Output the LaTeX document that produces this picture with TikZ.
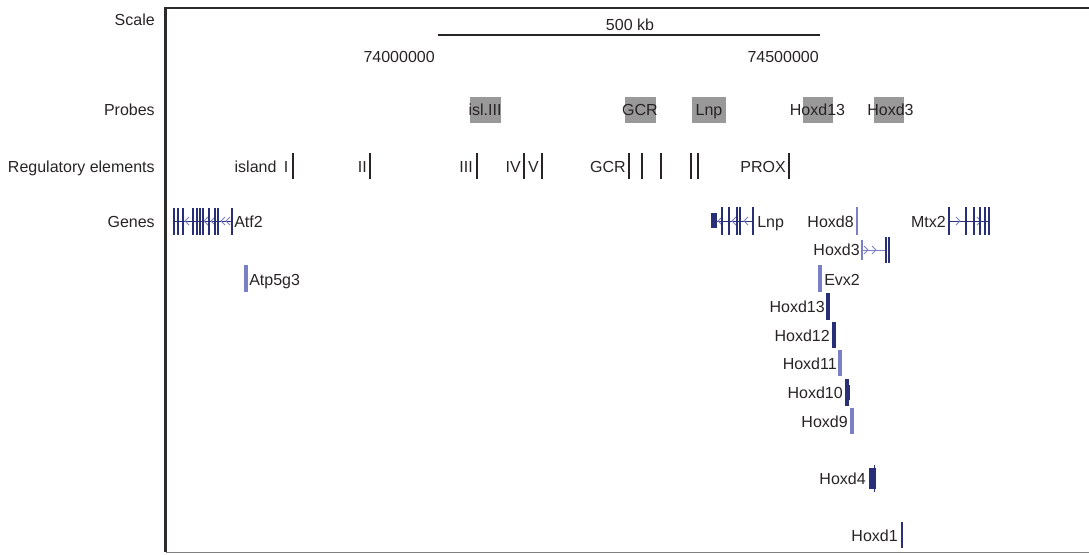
\documentclass[tikz,border=0pt]{standalone}
\usepackage{fontspec}
\setmainfont{Liberation Sans}
\definecolor{txt}{RGB}{40,36,37}
\definecolor{navy}{RGB}{40,46,120}
\definecolor{lightb}{RGB}{122,127,198}
\definecolor{probe}{RGB}{153,153,153}
\definecolor{frame}{RGB}{45,42,42}
\tikzset{
  lbl/.style={inner sep=0pt, text height=8.6pt, text depth=0pt, text=txt},
  regline/.style={draw=txt, line width=0.9pt},
  regthick/.style={draw=txt, line width=1.5pt},
  exon/.style={draw=navy, line width=1.4pt},
  exonthin/.style={draw=navy, line width=0.9pt},
  intron/.style={draw=navy, line width=0.6pt},
  chev/.style={draw=lightb, line width=0.6pt},
  lightbar/.style={draw=lightb, line width=2.4pt},
  navybar/.style={draw=navy, line width=2.4pt},
  probebox/.style={fill=probe, draw=none}
}
\begin{document}
\begin{tikzpicture}[x=0.75pt,y=-0.75pt,font=\fontsize{12}{14}\selectfont]
\useasboundingbox (0,0) rectangle (1089,554);
% frame
\draw[frame, line width=1.6pt] (165.5,552) -- (165.5,8) -- (1089,8);
\draw[gray, line width=1pt] (165.5,552.5) -- (1089,552.5);
% track labels
\node[lbl, anchor=east] (lscale) at (155,20) {Scale};
\node[lbl, anchor=east] (lprobes) at (155,110) {Probes};
\node[lbl, anchor=east] (lreg) at (155,167) {Regulatory elements};
\node[lbl, anchor=east] (lgenes) at (155,221.5) {Genes};
% scale
\draw[txt, line width=1.5pt] (438,35) -- (820,35);
\node[lbl] (kb) at (630,25) {500 kb};
\node[lbl, anchor=east] (p1) at (435,56.5) {74000000};
\node[lbl, anchor=east] (p2) at (819,56.5) {74500000};
% probes
\fill[probebox] (470,97) rectangle (501,123);
\fill[probebox] (625,97) rectangle (656,123);
\fill[probebox] (692,97) rectangle (726,123);
\fill[probebox] (803,97) rectangle (833,123);
\fill[probebox] (874,97) rectangle (904,123);
\node[lbl] (pisl) at (485,110) {isl.III};
\node[lbl] (pgcr) at (640,110) {GCR};
\node[lbl] (plnp) at (709,110) {Lnp};
\node[lbl] (phd13) at (817.5,110) {Hoxd13};
\node[lbl] (phd3) at (890.5,110) {Hoxd3};
% regulatory elements
\foreach \x in {293,370,477,542,642,661,691,698} \draw[regline] (\x,153) -- (\x,179);
\foreach \x in {524,629,789} \draw[regthick] (\x,153) -- (\x,179);
\node[lbl, anchor=east] (risl) at (288.5,167) {island\hspace{5.5pt}I};
\node[lbl, anchor=east] (rII) at (367,167) {II};
\node[lbl, anchor=east] (rIII) at (473,167) {III};
\node[lbl, anchor=east] (rIV) at (521,167) {IV};
\node[lbl, anchor=east] (rV) at (539,167) {V};
\node[lbl, anchor=east] (rGCR) at (626,167) {GCR};
\node[lbl, anchor=east] (rPROX) at (786,167) {PROX};
% Atf2
\draw[intron] (174,221) -- (232,221);
\foreach \x in {186,205,212,222,227} \draw[chev] (\x+3,217) -- (\x-1,221) -- (\x+3,225);
\foreach \x in {174,178,183,193,215,218,232} \draw[exonthin] (\x,208) -- (\x,235);
\foreach \x in {197,200,203,209} \draw[exon] (\x,208) -- (\x,235);
\node[lbl, anchor=west] (gatf2) at (234,221.5) {Atf2};
% Lnp
\draw[intron] (712,221) -- (754,221);
\fill[navy] (711,213) rectangle (717,228);
\foreach \x in {719,733,745} \draw[chev] (\x+3,217) -- (\x-1,221) -- (\x+3,225);
\foreach \x in {729,740} \draw[exonthin] (\x,207) -- (\x,235);
\foreach \x in {722,737,753} \draw[exon] (\x,207) -- (\x,235);
\node[lbl, anchor=west] (glnp) at (757,221.5) {Lnp};
% Hoxd8
\draw[draw=lightb, line width=1.1pt] (857,207) -- (857,235);
\node[lbl, anchor=east] (ghd8) at (854,221.5) {Hoxd8};
% Mtx2
\draw[intron] (949,221) -- (989,221);
\foreach \x in {959,980} \draw[chev] (\x-3,217) -- (\x+1,221) -- (\x-3,225);
\foreach \x in {949,974,985} \draw[exonthin] (\x,207) -- (\x,235);
\foreach \x in {966,980,989} \draw[exon] (\x,207) -- (\x,235);
\node[lbl, anchor=east] (gmtx2) at (946,221.5) {Mtx2};
% Hoxd3
\draw[draw=lightb, line width=0.6pt] (862,250) -- (887,250);
\draw[chev] (864,246) -- (868,250) -- (864,254);
\draw[chev] (872,246) -- (876,250) -- (872,254);
\draw[draw=lightb, line width=0.9pt] (862,240) -- (862,260);
\foreach \x in {886,889} \draw[exonthin] (\x,237) -- (\x,263);
\node[lbl, anchor=east] (ghd3) at (860,250) {Hoxd3};
% single-bar genes
\draw[lightbar] (246,265) -- (246,292);
\node[lbl, anchor=west] (gatp) at (249,279.5) {Atp5g3};
\draw[lightbar] (820,265) -- (820,292);
\node[lbl, anchor=west] (gevx2) at (824,279.5) {Evx2};
\draw[navybar] (828,293) -- (828,320);
\node[lbl, anchor=east] (ghd13) at (825,307) {Hoxd13};
\draw[navybar] (834,322) -- (834,348);
\node[lbl, anchor=east] (ghd12) at (830,336) {Hoxd12};
\draw[lightbar] (840,350) -- (840,376);
\node[lbl, anchor=east] (ghd11) at (837,364) {Hoxd11};
\draw[navybar] (847,379) -- (847,406);
\fill[navy] (846,385) rectangle (849.5,400);
\node[lbl, anchor=east] (ghd10) at (843,393) {Hoxd10};
\draw[lightbar] (852,408) -- (852,434);
\node[lbl, anchor=east] (ghd9) at (848,422) {Hoxd9};
\draw[draw=navy, line width=1pt] (874.5,465) -- (874.5,492);
\fill[navy] (869,468) rectangle (876,489);
\node[lbl, anchor=east] (ghd4) at (866,479) {Hoxd4};
\draw[draw=navy, line width=1.4pt] (902,522) -- (902,548);
\node[lbl, anchor=east] (ghd1) at (898,536) {Hoxd1};
\end{tikzpicture}
\end{document}
